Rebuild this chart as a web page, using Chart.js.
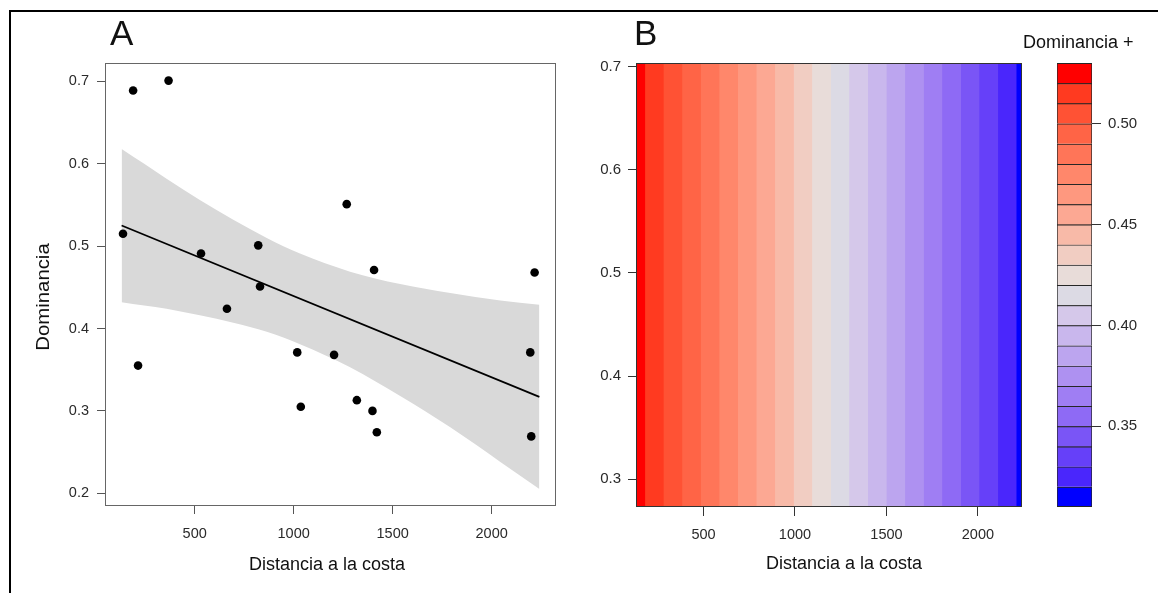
<!DOCTYPE html>
<html>
<head>
<meta charset="utf-8">
<title>Dominancia vs distancia a la costa</title>
<script src="https://cdn.jsdelivr.net/npm/chart.js@4.4.1/dist/chart.umd.min.js"></script>
<style>
  body { margin: 0; width: 1158px; height: 593px; background: #fff; position: relative; overflow: hidden;
         font-family: "Liberation Sans", Arial, sans-serif; }
  canvas { position: absolute; top: 0; }
  .frame { position: absolute; left: 9px; top: 10px; width: 1200px; height: 700px;
           border-top: 2px solid #000; border-left: 2px solid #000; }
  .txt { position: absolute; white-space: pre; color: #111; }
</style>
</head>
<body>
<div class="frame"></div>
<canvas id="chartA" width="580" height="593" style="left:0px"></canvas>
<canvas id="chartB" width="480" height="593" style="left:560px"></canvas>
<canvas id="chartKey" width="128" height="593" style="left:1030px"></canvas>

<div class="txt" style="left:110px; top:15px; font-size:35px; line-height:35px;">A</div>
<div class="txt" style="left:634px; top:15px; font-size:35px; line-height:35px;">B</div>
<div class="txt" style="left:1023px; top:33px; font-size:18px; line-height:18px;">Dominancia +</div>
<div class="txt" style="left:-57px; top:287px; width:200px; text-align:center; font-size:18px; line-height:20px; transform:rotate(-90deg) scaleX(1.13);">Dominancia</div>
<div class="txt" style="left:127px; top:555px; width:400px; text-align:center; font-size:18px; line-height:18px;">Distancia a la costa</div>
<div class="txt" style="left:644px; top:554px; width:400px; text-align:center; font-size:18px; line-height:18px;">Distancia a la costa</div>

<script>
// --- panel A: observations
const distPoints = [138, 189, 368, 214, 532, 663, 821, 830, 1018, 1036, 1268, 1204, 1319, 1406, 1398, 1420, 2217, 2195, 2200];
const domPoints = [0.515, 0.689, 0.701, 0.355, 0.491, 0.424, 0.501, 0.451, 0.371, 0.305, 0.551, 0.368, 0.313, 0.471, 0.300, 0.274, 0.468, 0.371, 0.269];

// fitted line and confidence band
const fitX = [131, 2241];
const fitY = [0.525, 0.317];
const bandX = [131, 245, 358, 526, 695, 864, 1032, 1285, 1538, 1791, 2044, 2241];
const bandUpper = [0.618, 0.600, 0.582, 0.556, 0.532, 0.510, 0.491, 0.469, 0.454, 0.443, 0.434, 0.429];
const bandLower = [0.432, 0.428, 0.424, 0.416, 0.407, 0.396, 0.381, 0.353, 0.318, 0.280, 0.238, 0.205];

// tick labels
const xTicks = [500, 1000, 1500, 2000];
const yTicksA = [0.2, 0.3, 0.4, 0.5, 0.6, 0.7];
const yTicksB = [0.3, 0.4, 0.5, 0.6, 0.7];
const keyTicks = [0.35, 0.40, 0.45, 0.50];

// --- panel B: predicted dominance bands along the distance axis
const stripeEdges = [131, 182, 283, 385, 486, 588, 689, 791, 892, 994, 1095, 1197, 1298, 1400, 1502, 1603, 1705, 1806, 1908, 2009, 2111, 2212, 2241];
const keyLevels = [0.53, 0.52, 0.51, 0.50, 0.49, 0.48, 0.47, 0.46, 0.45, 0.44, 0.43, 0.42, 0.41, 0.40, 0.39, 0.38, 0.37, 0.36, 0.35, 0.34, 0.33, 0.32, 0.31];
const levelColors = ['#ff0000', '#ff3a20', '#ff5234', '#ff6446', '#ff7558', '#ff876b', '#fe987f', '#fca893',
                     '#f8baa8', '#f1cdc2', '#e8dcd9', '#dcdae4', '#d5c8ea', '#c9b7ed', '#bca5ef', '#ae91f1',
                     '#9f7ef3', '#8e6af5', '#7a55f6', '#6640f9', '#4a26fc', '#0000ff'];

Chart.defaults.font.family = '"Liberation Sans", Arial, sans-serif';
Chart.defaults.font.size = 14.5;

const toPoints = (xs, ys) => xs.map((x, i) => ({ x: x, y: ys[i] }));

// box around the plotting region, like R's box()
const frameBox = {
  id: 'frameBox',
  afterDatasetsDraw(chart, args, opts) {
    const { ctx, chartArea: a } = chart;
    ctx.save();
    ctx.strokeStyle = opts.color || '#555';
    ctx.lineWidth = 1;
    ctx.strokeRect(Math.round(a.left) + 0.5, Math.round(a.top) + 0.5,
                   Math.round(a.right - a.left) - 1, Math.round(a.bottom - a.top) - 1);
    ctx.restore();
  }
};

function rAxis(opts) {
  return {
    type: 'linear',
    position: opts.position,
    min: opts.min,
    max: opts.max,
    afterBuildTicks: s => { s.ticks = opts.ticks.map(v => ({ value: v })); },
    afterFit: s => {
      if (opts.position === 'bottom') s.height = opts.size; else s.width = opts.size;
    },
    grid: { display: true, drawOnChartArea: false, drawTicks: true, tickLength: opts.tickLength, tickColor: opts.color, tickWidth: 1 },
    border: { display: false },
    ticks: { color: '#2a2a2a', padding: opts.padding, maxRotation: 0, autoSkip: false,
             font: { size: opts.fontSize || 14.5 }, callback: opts.fmt }
  };
}

const common = {
  animation: false,
  responsive: false,
  devicePixelRatio: 1,
  events: []
};

// Panel A
new Chart(document.getElementById('chartA'), {
  type: 'line',
  data: {
    datasets: [
      { data: toPoints(bandX, bandUpper), borderWidth: 0, borderColor: 'rgba(0,0,0,0)', pointRadius: 0,
        cubicInterpolationMode: 'monotone', fill: '+1', backgroundColor: '#d9d9d9', order: 3 },
      { data: toPoints(bandX, bandLower), borderWidth: 0, borderColor: 'rgba(0,0,0,0)', pointRadius: 0,
        cubicInterpolationMode: 'monotone', fill: false, order: 3 },
      { data: toPoints(fitX, fitY), borderColor: '#000', borderWidth: 1.7, pointRadius: 0, fill: false, order: 2 },
      { data: toPoints(distPoints, domPoints), showLine: false, pointRadius: 4.3,
        pointBackgroundColor: '#000', pointBorderWidth: 0, order: 1 }
    ]
  },
  options: Object.assign({}, common, {
    layout: { padding: { left: 0, top: 63, right: 24, bottom: 0 } },
    scales: {
      x: rAxis({ position: 'bottom', min: 47, max: 2325, ticks: xTicks, size: 87, tickLength: 8,
                 color: '#555', padding: 11, fmt: v => String(v) }),
      y: rAxis({ position: 'left', min: 0.1845, max: 0.7224, ticks: yTicksA, size: 105, tickLength: 8,
                 color: '#555', padding: 8, fmt: v => v.toFixed(1) })
    },
    plugins: { legend: { display: false }, tooltip: { enabled: false }, frameBox: { color: '#666' } }
  }),
  plugins: [frameBox]
});

// Panel B: each band is filled from the left edge to its right edge; left ones are drawn on top
const stripeTop = 0.7036;
new Chart(document.getElementById('chartB'), {
  type: 'line',
  data: {
    datasets: levelColors.map((c, i) => ({
      data: [{ x: stripeEdges[0], y: stripeTop }, { x: stripeEdges[i + 1], y: stripeTop }],
      borderWidth: 0, borderColor: 'rgba(0,0,0,0)', pointRadius: 0,
      fill: 'start', backgroundColor: c
    }))
  },
  options: Object.assign({}, common, {
    layout: { padding: { left: 0, top: 63, right: 18, bottom: 0 } },
    scales: {
      x: rAxis({ position: 'bottom', min: 131, max: 2241, ticks: xTicks, size: 86, tickLength: 9,
                 color: '#333', padding: 10, fmt: v => String(v) }),
      y: rAxis({ position: 'left', min: 0.273, max: stripeTop, ticks: yTicksB, size: 76, tickLength: 8,
                 color: '#333', padding: 7, fontSize: 15, fmt: v => v.toFixed(1) })
    },
    plugins: { legend: { display: false }, tooltip: { enabled: false }, frameBox: { color: '#333' } }
  }),
  plugins: [frameBox]
});

// Colour key
new Chart(document.getElementById('chartKey'), {
  type: 'bar',
  data: {
    labels: [''],
    datasets: levelColors.map((c, i) => ({
      data: [[keyLevels[i + 1], keyLevels[i]]],
      backgroundColor: c,
      borderColor: '#262626',
      borderWidth: { top: 1.3, left: 1, right: 1, bottom: i === levelColors.length - 1 ? 1.3 : 0 },
      borderSkipped: false,
      grouped: false,
      barPercentage: 1,
      categoryPercentage: 1
    }))
  },
  options: Object.assign({}, common, {
    layout: { padding: { left: 27, top: 63, right: 0, bottom: 86 } },
    scales: {
      x: { display: false },
      y: rAxis({ position: 'right', min: 0.31, max: 0.53, ticks: keyTicks, size: 66, tickLength: 9,
                 color: '#333', padding: 7, fontSize: 15, fmt: v => v.toFixed(2) })
    },
    plugins: { legend: { display: false }, tooltip: { enabled: false } }
  })
});
</script>
</body>
</html>
